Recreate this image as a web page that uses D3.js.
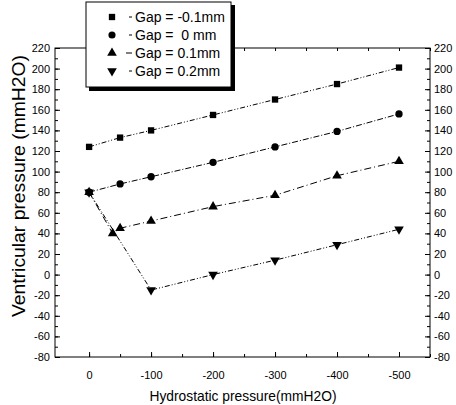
<!DOCTYPE html>
<html>
<head>
<meta charset="utf-8">
<script src="https://cdn.jsdelivr.net/npm/d3@7"></script>
<style>
	body { margin: 0; background: white; }
	text { font-family: "Liberation Sans", Arial, sans-serif; fill: black; }
</style>
</head>
<body>
<script>
// data
var seriesNames = ["Gap = -0.1mm", "Gap =  0 mm", "Gap = 0.1mm", "Gap = 0.2mm"]
var gapM01X = [0, -50, -100, -200, -300, -400, -500]
var gapM01Y = [124, 133, 140, 155, 170, 185, 201]
var gap0X = [0, -50, -100, -200, -300, -400, -500]
var gap0Y = [80, 88, 95, 109, 124, 139, 156]
var gap01X = [0, -38, -50, -100, -200, -300, -400, -500]
var gap01Y = [80, 40, 45, 52, 66, 77, 96, 110]
var gap02X = [0, -100, -200, -300, -400, -500]
var gap02Y = [80, -15, 0, 14, 29, 44]
var xTicks = [0, -100, -200, -300, -400, -500]
var yTicks = [220, 200, 180, 160, 140, 120, 100, 80, 60, 40, 20, 0, -20, -40, -60, -80]

var symbols = [d3.symbolSquare, d3.symbolCircle, d3.symbolTriangle, d3.symbolTriangle]
var dashes = ["5,2,1,2,1,2", "6,2,1,2", "7,3,1,3", "5,2,1,2,1,2"]

function main() {
	var w = 456
	var h = 405
	var left = 55, right = 430, top = 48, bottom = 357

	var svg = d3.select("body")
		.append("svg")
		.attr("width", w)
		.attr("height", h)

	var xScale = d3.scaleLinear().domain([55, -550]).range([left, right])
	var yScale = d3.scaleLinear().domain([-80, 220]).range([bottom, top])

	// frame
	svg.append("rect")
		.attr("x", left).attr("y", top)
		.attr("width", right - left).attr("height", bottom - top)
		.attr("fill", "none").attr("stroke", "black").attr("stroke-width", 1)

	// axes, ticks pointing inward
	var xMinor = d3.range(0, -551, -50)
	var yMinor = d3.range(-80, 221, 10)
	var fmt = (d) => String(d)

	var bottomAxis = d3.axisBottom(xScale).tickValues(xTicks).tickSize(-5).tickPadding(14)
		.tickFormat(fmt)
	var gb = svg.append("g").attr("transform", "translate(0," + bottom + ")").call(bottomAxis)
	gb.append("g").call(d3.axisBottom(xScale).tickValues(xMinor).tickSize(-3).tickFormat(""))
	svg.append("g").attr("transform", "translate(0," + top + ")")
		.call(d3.axisTop(xScale).tickValues(xMinor).tickSize(-3).tickFormat(""))

	var leftAxis = d3.axisLeft(yScale).tickValues(yTicks).tickSize(-5).tickPadding(5).tickFormat(fmt)
	var gl = svg.append("g").attr("transform", "translate(" + left + ",0)").call(leftAxis)
	gl.append("g").call(d3.axisLeft(yScale).tickValues(yMinor).tickSize(-3).tickFormat(""))

	var rightAxis = d3.axisRight(yScale).tickValues(yTicks).tickSize(-5).tickPadding(4).tickFormat(fmt)
	var gr = svg.append("g").attr("transform", "translate(" + right + ",0)").call(rightAxis)
	gr.append("g").call(d3.axisRight(yScale).tickValues(yMinor).tickSize(-3).tickFormat(""))

	svg.selectAll(".domain").remove()
	svg.selectAll(".tick line").attr("stroke", "black")
	svg.selectAll(".tick text")
		.style("font-family", "'Liberation Sans', Arial, sans-serif")
		.style("font-size", "11px")
		.attr("fill", "black")

	// axis titles
	svg.append("text")
		.attr("x", 243)
		.attr("y", 401)
		.attr("textLength", 187)
		.attr("lengthAdjust", "spacingAndGlyphs")
		.style("text-anchor", "middle")
		.style("font-size", "15px")
		.text("Hydrostatic pressure(mmH2O)")

	svg.append("text")
		.attr("transform", "translate(25,186) rotate(-90)")
		.attr("textLength", 262)
		.attr("lengthAdjust", "spacingAndGlyphs")
		.style("text-anchor", "middle")
		.style("font-size", "18px")
		.text("Ventricular pressure (mmH2O)")

	// series
	var allX = [gapM01X, gap0X, gap01X, gap02X]
	var allY = [gapM01Y, gap0Y, gap01Y, gap02Y]
	var line = d3.line().x((d) => xScale(d[0])).y((d) => yScale(d[1]))

	allX.forEach((xs, s) => {
		var pts = xs.map((x, i) => [x, allY[s][i]])
		svg.append("path")
			.attr("d", line(pts))
			.attr("fill", "none")
			.attr("stroke", "black")
			.attr("stroke-width", 1)
			.attr("stroke-dasharray", dashes[s])

		svg.append("g")
			.selectAll("path")
			.data(pts)
			.enter()
			.append("path")
			.attr("d", d3.symbol().type(symbols[s]).size(s == 1 ? 42 : 40))
			.attr("transform", (d) => "translate(" + xScale(d[0]) + "," + yScale(d[1]) + ")" + (s == 3 ? " rotate(180)" : ""))
			.attr("fill", "black")
	})

	// legend
	var legend = svg.append("g")
	legend.append("rect")
		.attr("x", 89).attr("y", 5).attr("width", 146).attr("height", 86)
		.attr("fill", "black")
	legend.append("rect")
		.attr("x", 86).attr("y", 2).attr("width", 145).attr("height", 85)
		.attr("fill", "white").attr("stroke", "black").attr("stroke-width", 1)

	legend.selectAll(".lsym")
		.data(seriesNames)
		.enter()
		.append("path")
		.attr("class", "lsym")
		.attr("d", (d, i) => d3.symbol().type(symbols[i]).size(40)())
		.attr("transform", (d, i) => "translate(112," + (17 + i * 18) + ")" + (i == 3 ? " rotate(180)" : ""))
		.attr("fill", "black")

	legend.selectAll(".lline")
		.data(seriesNames)
		.enter()
		.append("line")
		.attr("class", "lline")
		.attr("x1", (d, i) => i == 2 ? 126 : 129).attr("x2", 132)
		.attr("y1", (d, i) => 17 + i * 18).attr("y2", (d, i) => 17 + i * 18)
		.attr("stroke", "black").attr("stroke-width", 1)

	legend.selectAll(".ltext")
		.data(seriesNames)
		.enter()
		.append("text")
		.attr("class", "ltext")
		.attr("x", 135)
		.attr("y", (d, i) => 17 + i * 18)
		.attr("dy", "0.35em")
		.style("font-size", "14px")
		.style("white-space", "pre")
		.attr("xml:space", "preserve")
		.text((d) => d)
}

main()
</script>
</body>
</html>
